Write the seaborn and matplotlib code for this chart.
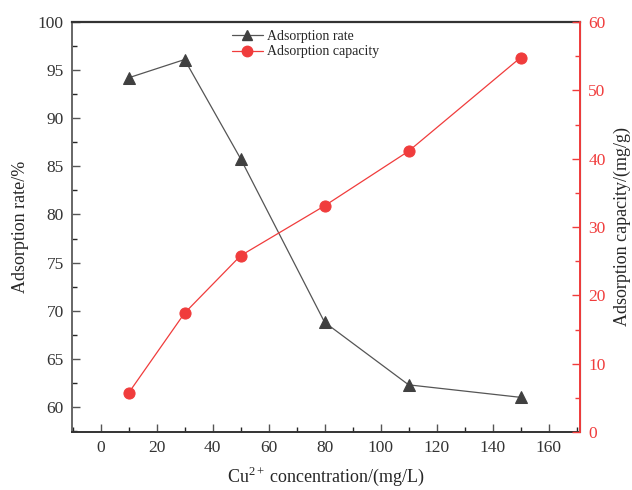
import matplotlib
matplotlib.use('Agg')
import matplotlib.pyplot as plt
import seaborn as sns
import pandas as pd
from matplotlib.lines import Line2D
from matplotlib.ticker import MultipleLocator

# data
concentration = [10, 30, 50, 80, 110, 150]
adsorption_rate = [94.2, 96.1, 85.8, 68.8, 62.3, 61.0]
adsorption_capacity = [5.7, 17.4, 25.8, 33.1, 41.1, 54.8]

GRAY = "#404040"
RED = "#f03c3c"

sns.set_style("ticks")
plt.rcParams['font.family'] = ['Liberation Serif', 'DejaVu Serif']
plt.rcParams['mathtext.fontset'] = 'custom'
plt.rcParams['mathtext.rm'] = 'Liberation Serif'

df = pd.DataFrame({"conc": concentration, "rate": adsorption_rate, "cap": adsorption_capacity})

fig = plt.figure(figsize=(6.32, 4.90), dpi=100)
ax = fig.add_axes([72 / 632, 58 / 490, 508 / 632, 410 / 490])
ax2 = ax.twinx()

sns.lineplot(data=df, x="conc", y="rate", ax=ax, color="#555555", lw=0.9,
             marker="^", markersize=8, markerfacecolor=GRAY, markeredgecolor=GRAY)
sns.lineplot(data=df, x="conc", y="cap", ax=ax2, color=RED, lw=0.9,
             marker="o", markersize=8, markerfacecolor=RED, markeredgecolor=RED)

ax.set_xlim(-10.2, 171.2)
ax.set_ylim(57.4, 100)
ax2.set_ylim(0, 60)

ax.xaxis.set_major_locator(MultipleLocator(20))
ax.xaxis.set_minor_locator(MultipleLocator(10))
ax.yaxis.set_major_locator(MultipleLocator(5))
ax.yaxis.set_minor_locator(MultipleLocator(2.5))
ax2.yaxis.set_major_locator(MultipleLocator(10))
ax2.yaxis.set_minor_locator(MultipleLocator(5))

for a in (ax, ax2):
    a.tick_params(which="both", direction="in", labelsize=12.5)
    a.tick_params(which="major", length=6, width=1)
    a.tick_params(which="minor", length=3.5, width=1)
ax.tick_params(colors="#555555", labelcolor="#333333", pad=6)
ax2.tick_params(axis="y", which="both", colors=RED, labelcolor=RED, pad=6)

ax.spines["left"].set_color("#666666")
ax.spines["bottom"].set_color("#333333")
ax.spines["top"].set_color("#333333")
ax.spines["top"].set_linewidth(1.6)
ax.spines["bottom"].set_linewidth(1.4)
ax.spines["left"].set_linewidth(1.4)
ax2.spines["right"].set_color(RED)
ax2.spines["right"].set_linewidth(1.4)
ax2.spines["left"].set_visible(False)
ax2.spines["top"].set_visible(False)
ax2.spines["bottom"].set_visible(False)

ax.set_xlabel(r"Cu$^{\mathregular{2+}}\,$concentration/(mg/L)", fontsize=13, labelpad=6)
ax.set_ylabel("Adsorption rate/%", fontsize=13, labelpad=6)
ax2.set_ylabel("Adsorption capacity/(mg/g)", fontsize=13, labelpad=6)

handles = [
    Line2D([], [], color="#555555", lw=0.9, marker="^", markersize=7.5,
           markerfacecolor=GRAY, markeredgecolor=GRAY),
    Line2D([], [], color=RED, lw=0.9, marker="o", markersize=7.5,
           markerfacecolor=RED, markeredgecolor=RED),
]
ax.legend(handles, ["Adsorption rate", "Adsorption capacity"], loc="upper left",
          bbox_to_anchor=(0.30, 1.0), frameon=False, fontsize=10,
          handlelength=2.2, handletextpad=0.35, labelspacing=0.2, borderaxespad=0.15)

fig.savefig("out.png", dpi=100)
plt.close(fig)
